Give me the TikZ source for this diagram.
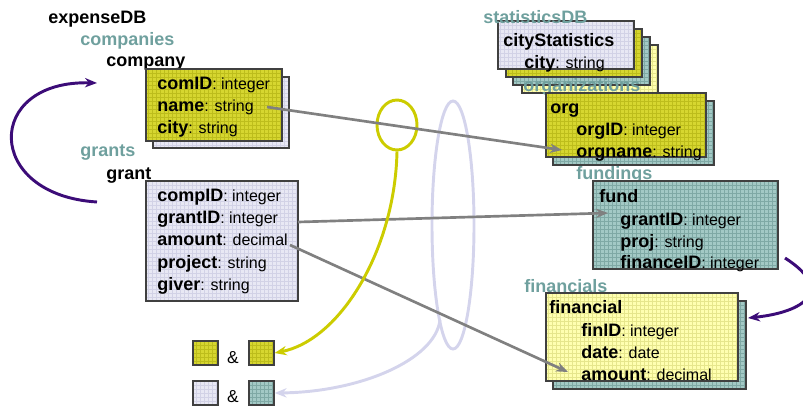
\documentclass[tikz,border=0pt]{standalone}
\usepackage{fontspec}
\setmainfont{Liberation Sans}
\usetikzlibrary{patterns,arrows.meta,shapes.geometric}

\definecolor{yel}{HTML}{D6D630}
\definecolor{yelgrid}{HTML}{BDBD1C}
\definecolor{lav}{HTML}{E8E8F4}
\definecolor{lavgrid}{HTML}{D2D2E6}
\definecolor{tea}{HTML}{A3C9C5}
\definecolor{teagrid}{HTML}{7FA9A5}
\definecolor{ltyel}{HTML}{FFFFB0}
\definecolor{ltyelgrid}{HTML}{E6E68C}
\definecolor{headteal}{HTML}{6FA09E}
\definecolor{purp}{HTML}{3C0C78}
\definecolor{linkgray}{HTML}{808080}
\definecolor{ringyel}{HTML}{CCCC00}
\definecolor{ringlav}{HTML}{D4D4EC}
\definecolor{boxline}{HTML}{404040}

% field line: bold attribute name, regular type
\newcommand{\fieldtxt}[2]{{\fontsize{13.5}{16}\selectfont\bfseries #1}{\fontsize{12}{14}\selectfont: #2}}

\tikzset{
  lbl/.style={anchor=base west, inner sep=0pt, font=\fontsize{13.5}{16}\selectfont\bfseries},
  grp/.style={lbl, text=headteal},
  fieldrow/.style={anchor=base west, inner sep=0pt},
  amp/.style={anchor=base, inner sep=0pt, font=\fontsize{13}{15}\selectfont},
  boxbase/.style={draw=boxline, line width=0.9pt},
  ybox/.style={boxbase, preaction={fill=yel}, preaction={pattern=grid, pattern color=yelgrid}},
  lbox/.style={boxbase, preaction={fill=lav}, preaction={pattern=grid, pattern color=lavgrid}},
  tbox/.style={boxbase, preaction={fill=tea}, preaction={pattern=grid, pattern color=teagrid}},
  lybox/.style={boxbase, preaction={fill=ltyel}, preaction={pattern=grid, pattern color=ltyelgrid}},
  ghost/.style={fill opacity=0.6},
  sq/.style={minimum width=18.75pt, minimum height=18pt, inner sep=0pt},
  link/.style={draw=linkgray, line width=2pt, -{Stealth[length=9pt,width=7pt]}},
  purparrow/.style={draw=purp, line width=2.2pt, -{Stealth[length=9pt,width=7pt]}},
  ring/.style={draw, ellipse, inner sep=0pt, line width=2.2pt},
}

\begin{document}
\begin{tikzpicture}[x=0.75pt,y=-0.75pt]
\useasboundingbox (0,0) rectangle (803,405);

% ---------- expenseDB ----------
\node[lbl] (expdb) at (48,23) {expenseDB};
\node[grp] (companies) at (80,45) {companies};
\node[lbl] (company) at (106,66) {company};
\path[lbox] (153,77) rectangle (289,148);
\path[ybox] (146,69) rectangle (282,141);
\node[fieldrow] (comid) at (157,89) {\fieldtxt{comID}{integer}};
\node[fieldrow] (comname) at (157,111) {\fieldtxt{name}{string}};
\node[fieldrow] (comcity) at (157,133) {\fieldtxt{city}{string}};

\node[grp] (grants) at (80,156) {grants};
\node[lbl] (grant) at (106,179) {grant};
\path[lbox] (146,181) rectangle (298,301);
\node[fieldrow] (gcompid) at (157,201) {\fieldtxt{compID}{integer}};
\node[fieldrow] (ggrantid) at (157,223) {\fieldtxt{grantID}{integer}};
\node[fieldrow] (gamount) at (157,245) {\fieldtxt{amount}{decimal}};
\node[fieldrow] (gproject) at (157,268) {\fieldtxt{project}{string}};
\node[fieldrow] (ggiver) at (157,290) {\fieldtxt{giver}{string}};

% ---------- statisticsDB ----------
\path[lybox] (522,45) rectangle (658,93);
\path[tbox, ghost] (513,37) rectangle (650,85);
\path[ybox, ghost] (506,29) rectangle (642,77);
\path[lbox, ghost] (498,21) rectangle (634,69);
\node[grp] (statdb) at (483,23) {statisticsDB};
\node[lbl] (citystat) at (503,46) {cityStatistics};
\node[fieldrow] (stcity) at (524,68) {\fieldtxt{city}{string}};
\node[grp] (orgs) at (523,91) {organizations};

\path[tbox] (553,101) rectangle (714,165);
\path[ybox] (546,93) rectangle (706,157);
\node[lbl] (org) at (550,113) {org};
\node[fieldrow] (orgid) at (576,135) {\fieldtxt{orgID}{integer}};
\node[fieldrow] (orgname) at (576,157) {\fieldtxt{orgname}{string}};

\node[grp] (fundings) at (576,179) {fundings};
\path[tbox] (593,181) rectangle (778,269);
\node[lbl] (fund) at (599,202) {fund};
\node[fieldrow] (fgrantid) at (620,225) {\fieldtxt{grantID}{integer}};
\node[fieldrow] (fproj) at (620,247) {\fieldtxt{proj}{string}};
\node[fieldrow] (ffinid) at (620,268) {\fieldtxt{financeID}{integer}};

\node[grp] (financials) at (524,292) {financials};
\path[tbox] (553,301) rectangle (746,389);
\path[lybox] (546,293) rectangle (738,381);
\node[lbl] (financial) at (549,313) {financial};
\node[fieldrow] (finid) at (581,336) {\fieldtxt{finID}{integer}};
\node[fieldrow] (fdate) at (581,358) {\fieldtxt{date}{date}};
\node[fieldrow] (famount) at (581,380) {\fieldtxt{amount}{decimal}};

% ---------- legend squares ----------
\node[sq, ybox] (sqA) at (205.5,353) {};
\node[sq, ybox] (sqB) at (261.5,353) {};
\node[sq, lbox] (sqC) at (205.5,393) {};
\node[sq, tbox] (sqD) at (261.5,393) {};
\node[amp] (ampA) at (233,363) {\&};
\node[amp] (ampB) at (233,402) {\&};

% ---------- rings ----------
\node[ring, draw=ringlav, minimum width=31.5pt, minimum height=186pt] (lavring) at (453,225) {};
\node[ring, draw=ringyel, minimum width=30pt, minimum height=37.5pt] (yelring) at (397,125) {};

% ---------- connector end points ----------
\coordinate (nameout) at (267,107);
\coordinate (orgin) at (562,150);
\coordinate (grantout) at (298,222);
\coordinate (fundin) at (608,213);
\coordinate (amountout) at (290,245);
\coordinate (finin) at (568,372);
\coordinate (grantloop) at (97,202);
\coordinate (companyloop) at (97,83);
\coordinate (fundloop) at (785,258);
\coordinate (finloop) at (748,318);
\coordinate (lavout) at (440,320);

% ---------- gray links ----------
\draw[link] (nameout) -- (orgin);
\draw[link] (grantout) -- (fundin);
\draw[link] (amountout) -- (finin);

% ---------- ring-to-legend curves ----------
\draw[draw=ringyel, line width=2.2pt, -{Stealth[length=9pt,width=7pt]}]
  (yelring.south) .. controls (395,250) and (340,340) .. (sqB.east);
\draw[draw=ringlav, line width=2.2pt, -{Stealth[length=9pt,width=7pt]}]
  (lavout) .. controls (435,360) and (360,392) .. (sqD.east);

% ---------- purple loops ----------
\draw[purparrow] (grantloop) .. controls (-16,195) and (-16,80) .. (companyloop);
\draw[purparrow] (fundloop) .. controls (835,290) and (805,312) .. (finloop);
\end{tikzpicture}
\end{document}
